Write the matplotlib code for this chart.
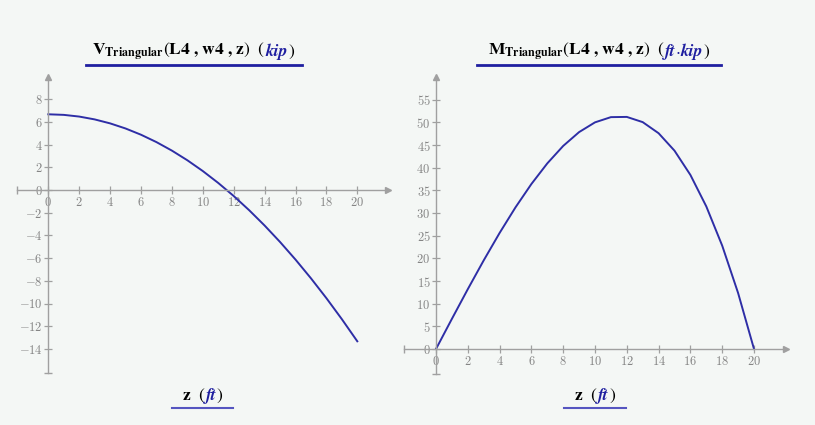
import matplotlib
matplotlib.use("Agg")
import matplotlib.pyplot as plt
from matplotlib.lines import Line2D
from matplotlib.ticker import FuncFormatter

# Beam position (ft) and the internal forces under the triangular load
z_ft = [0, 1, 2, 3, 4, 5, 6, 7, 8, 9, 10, 11, 12, 13, 14, 15, 16, 17, 18, 19, 20]
shear_kip = [6.67, 6.62, 6.47, 6.22, 5.87, 5.42, 4.87, 4.22, 3.47, 2.62, 1.67,
             0.62, -0.53, -1.78, -3.13, -4.58, -6.13, -7.78, -9.53, -11.38, -13.33]
moment_ftkip = [0.0, 6.65, 13.20, 19.55, 25.60, 31.25, 36.40, 40.95, 44.80, 47.85,
                50.00, 51.15, 51.20, 50.05, 47.60, 43.75, 38.40, 31.45, 22.80, 12.35, 0.0]

x_ticks = list(range(0, 21, 2))
shear_ticks = list(range(-14, 9, 2))
moment_ticks = list(range(0, 56, 5))

W, H = 815, 425
BG = "#f4f7f5"
AXIS = "#a0a0a0"
TICKLBL = "#858585"
CURVE = "#2e2ea6"
BLUE = "#1f1fa0"

fig = plt.figure(figsize=(W / 100, H / 100), dpi=100, facecolor=BG)


def make_axes(ox, oy, sx, sy, xlim, ylim):
    left = ox + xlim[0] * sx
    width = (xlim[1] - xlim[0]) * sx
    top = oy - ylim[1] * sy
    height = (ylim[1] - ylim[0]) * sy
    ax = fig.add_axes([left / W, 1 - (top + height) / H, width / W, height / H])
    ax.set_xlim(*xlim)
    ax.set_ylim(*ylim)
    return ax


def style_axes(ax, yticks, xext, yext):
    ax.set_facecolor("none")
    for s in ("top", "right"):
        ax.spines[s].set_visible(False)
    ax.spines["left"].set_position(("data", 0))
    ax.spines["bottom"].set_position(("data", 0))
    ax.spines["left"].set_bounds(*yext)
    ax.spines["bottom"].set_bounds(*xext)
    for s in ("left", "bottom"):
        ax.spines[s].set_color(AXIS)
        ax.spines[s].set_linewidth(1.0)
    ax.set_xticks(x_ticks)
    ax.set_yticks(yticks)
    fmt = FuncFormatter(lambda v, p: f"${v:g}$")
    ax.xaxis.set_major_formatter(fmt)
    ax.yaxis.set_major_formatter(fmt)
    ax.tick_params(direction="inout", length=6, width=0.9, color=AXIS,
                   labelcolor=TICKLBL, labelsize=9)
    ax.tick_params(axis="x", pad=1.0)
    ax.tick_params(axis="y", pad=1.0)
    for lbl in ax.get_xticklabels() + ax.get_yticklabels():
        lbl.set_math_fontfamily("cm")
    # arrow heads and end caps of the axis lines
    ax.plot([xext[1]], [0], marker=">", color=AXIS, markersize=5, clip_on=False)
    ax.plot([0], [yext[1]], marker="^", color=AXIS, markersize=5, clip_on=False)
    ax.plot([xext[0]], [0], marker="|", color=AXIS, markersize=6, clip_on=False)
    ax.plot([0], [yext[0]], marker="_", color=AXIS, markersize=6, clip_on=False)


# Shear diagram
ax1 = make_axes(48.3, 190.0, 15.45, 11.35, (-2.1, 22.2), (-16.2, 10.1))
style_axes(ax1, shear_ticks, (-2.0, 22.0), (-16.1, 9.95))
ax1.plot(z_ft, shear_kip, color=CURVE, lw=1.4)

# Bending moment diagram
ax2 = make_axes(436.0, 349.0, 15.9, 4.533, (-2.1, 22.2), (-5.6, 60.2))
style_axes(ax2, moment_ticks, (-2.0, 22.0), (-5.5, 60.0))
ax2.plot(z_ft, moment_ftkip, color=CURVE, lw=1.4)

fig.canvas.draw()
renderer = fig.canvas.get_renderer()


def rich_line(xc, yb, pieces):
    texts = []
    for s, kw in pieces:
        t = fig.text(0, 1 - yb / H, s, ha="left", va="baseline", **kw)
        texts.append(t)
    widths = [t.get_window_extent(renderer).width for t in texts]
    x = xc - sum(widths) / 2
    for t, w in zip(texts, widths):
        t.set_position((x / W, 1 - yb / H))
        x += w


def underline(x0, x1, y, color, lw):
    fig.add_artist(Line2D([x0 / W, x1 / W], [1 - y / H, 1 - y / H],
                          transform=fig.transFigure, color=color, lw=lw))


black_math = dict(color="black", fontsize=12.5, math_fontfamily="stix")
blue_unit = dict(color=BLUE, fontsize=12.5, family="STIXGeneral",
                 style="italic", weight="bold")

rich_line(193.7, 55.5, [
    (r"$\mathbf{V}_{\mathbf{Triangular}}\left(\mathbf{L4}\ \mathbf{,}\ \mathbf{w4}\ \mathbf{,}\ \mathbf{z}\right)\ \ ($", black_math),
    ("kip", blue_unit),
    (r"$)$", black_math),
])
underline(85.7, 301.7, 65.0, BLUE, 2.0)

rich_line(598.8, 55.5, [
    (r"$\mathbf{M}_{\mathbf{Triangular}}\left(\mathbf{L4}\ \mathbf{,}\ \mathbf{w4}\ \mathbf{,}\ \mathbf{z}\right)\ \ ($", black_math),
    ("ft", blue_unit),
    (r"$\cdot$", dict(color=BLUE, fontsize=12.5, math_fontfamily="stix")),
    ("kip", blue_unit),
    (r"$)$", black_math),
])
underline(476.7, 721.0, 65.0, BLUE, 2.0)

for xc, x0, x1 in ((202.7, 172.0, 233.3), (595.0, 564.3, 625.7)):
    rich_line(xc, 399.5, [
        (r"$\mathbf{z}\ \ ($", black_math),
        ("ft", blue_unit),
        (r"$)$", black_math),
    ])
    underline(x0, x1, 407.7, "#5555c0", 1.5)

fig.savefig("out.png", dpi=100, facecolor=BG)
